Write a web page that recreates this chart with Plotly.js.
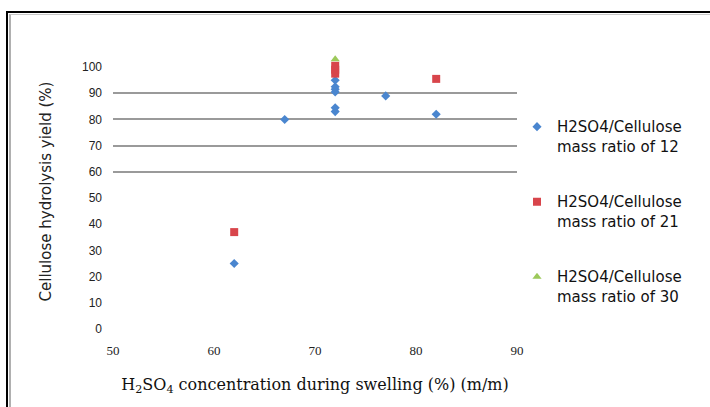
<!DOCTYPE html>
<html>
<head>
<meta charset="utf-8">
<script src="https://cdn.plot.ly/plotly-3.0.1.min.js"></script>
<style>
  html, body { margin: 0; padding: 0; background: #fff; }
  #wrap { position: relative; width: 710px; height: 407px; }
  #chart { width: 710px; height: 407px; }
  #frame1 { position: absolute; left: 6px; top: 11px; right: 0; bottom: 0;
            border-left: 2px solid #000; border-top: 2px solid #000; pointer-events: none; }
  #frame2 { position: absolute; left: 9px; top: 14px; right: 0; bottom: 0;
            border-left: 2px solid #b0b0b0; border-top: 1px solid #c8c8c8; pointer-events: none; }
</style>
</head>
<body>
<div id="wrap">
  <div id="chart"></div>
  <div id="frame1"></div>
  <div id="frame2"></div>
</div>
<script>
// Series 1: H2SO4/Cellulose mass ratio of 12
const s1x = [62, 67, 72, 72, 72, 72, 72, 72, 77, 82];
const s1y = [25, 80, 83, 84.5, 90.5, 91.5, 92.5, 95, 89, 82];
// Series 2: H2SO4/Cellulose mass ratio of 21
const s2x = [62, 72, 72, 72, 82];
const s2y = [37, 97.5, 99, 100.5, 95.5];
// Series 3: H2SO4/Cellulose mass ratio of 30
const s3x = [72];
const s3y = [103];

const seriesNames = [
  "H2SO4/Cellulose<br>mass ratio of 12",
  "H2SO4/Cellulose<br>mass ratio of 21",
  "H2SO4/Cellulose<br>mass ratio of 30"
];
const xTicks = [50, 60, 70, 80, 90];
const yTicks = [0, 10, 20, 30, 40, 50, 60, 70, 80, 90, 100];
const gridTicks = [60, 70, 80, 90];

const traces = [
  { x: s1x, y: s1y, name: seriesNames[0], type: 'scatter', mode: 'markers',
    legendgroup: 'a', cliponaxis: false,
    marker: { symbol: 'diamond', size: 7, color: '#4a86cf' } },
  { x: s2x, y: s2y, name: seriesNames[1], type: 'scatter', mode: 'markers',
    legendgroup: 'b', cliponaxis: false,
    marker: { symbol: 'square', size: 8, color: '#d8454b' } },
  { x: s3x, y: s3y, name: seriesNames[2], type: 'scatter', mode: 'markers',
    legendgroup: 'c', cliponaxis: false,
    marker: { symbol: 'triangle-up', size: 8, color: '#9cc95a' } },
  { x: [50], y: [0], yaxis: 'y2', type: 'scatter', mode: 'markers',
    showlegend: false, hoverinfo: 'skip', marker: { opacity: 0 } }
];

const layout = {
  width: 710, height: 407,
  margin: { l: 113, r: 193, t: 54, b: 78 },
  paper_bgcolor: '#ffffff', plot_bgcolor: 'rgba(0,0,0,0)',
  showlegend: true,
  font: { family: 'DejaVu Sans, sans-serif', color: '#111' },
  xaxis: {
    range: [50, 90], tickvals: xTicks, ticktext: xTicks.map(String),
    showgrid: false, zeroline: false, showline: false, ticks: '',
    tickfont: { family: 'Liberation Serif, Times New Roman, serif', size: 13, color: '#222' },
    ticklabelstandoff: 12,
    title: { text: 'H<sub>2</sub>SO<sub>4</sub> concentration during swelling (%) (m/m)',
             font: { family: 'DejaVu Serif, serif', size: 16, color: '#111' },
             standoff: 21 },
    automargin: false
  },
  yaxis: {
    range: [0, 105], tickvals: yTicks, ticktext: yTicks.map(String),
    showgrid: false, zeroline: false, showline: false, ticks: '',
    tickfont: { family: 'Liberation Sans, Arial, sans-serif', size: 12, color: '#222' },
    ticklabelstandoff: 10,
    title: { text: 'Cellulose hydrolysis yield (%)',
             font: { family: 'DejaVu Sans, sans-serif', size: 15, color: '#222' },
             standoff: 26 },
    automargin: false
  },
  yaxis2: {
    overlaying: 'y', range: [0, 105], tickvals: gridTicks,
    showgrid: true, gridcolor: '#9a9a9a', gridwidth: 2,
    showticklabels: false, zeroline: false, showline: false, ticks: '',
    automargin: false
  },
  legend: {
    x: 1.0, xanchor: 'left', y: 0.795, yanchor: 'top', valign: 'top',
    font: { family: 'DejaVu Sans, sans-serif', size: 15, color: '#111' },
    tracegroupgap: 33, itemwidth: 30, bgcolor: 'rgba(0,0,0,0)'
  }
};

Plotly.newPlot('chart', traces, layout, { displayModeBar: false, staticPlot: true });
</script>
</body>
</html>
